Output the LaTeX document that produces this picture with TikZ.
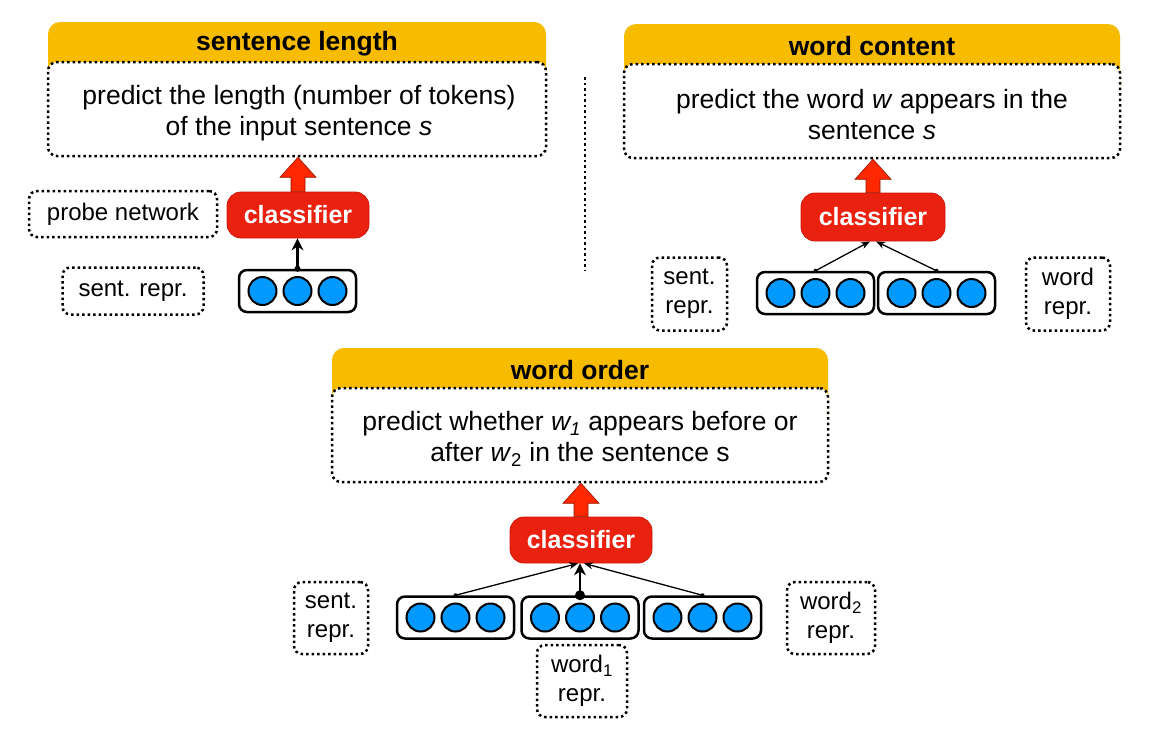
\documentclass[tikz,border=0pt]{standalone}
\usepackage{fontspec}
\setmainfont{Liberation Sans}
\usetikzlibrary{calc,arrows.meta}
\definecolor{hdrY}{RGB}{247,187,0}
\definecolor{clsR}{RGB}{234,33,15}
\definecolor{clsB}{RGB}{205,25,10}
\definecolor{arrR}{RGB}{255,40,0}
\definecolor{arrB}{RGB}{150,20,0}
\definecolor{blueU}{RGB}{0,153,255}
\tikzset{
  dotline/.style={line width=2.5pt, dash pattern=on 2.5pt off 3pt},
  hdrfill/.style={fill=hdrY, rounded corners=12pt},
  taskbox/.style={draw, dotline, fill=white, rounded corners=9pt, minimum width=498pt, minimum height=94pt, inner sep=0pt},
  tasktext/.style={align=center, inner sep=0pt, font=\fontsize{26.5}{31}\selectfont},
  ttl/.style={font=\fontsize{26.5}{31}\selectfont\bfseries},
  cls/.style={fill=clsR, draw=clsB, line width=0.8pt, rounded corners=14pt, minimum width=142pt, minimum height=46pt, text=white, font=\fontsize{25}{30}\selectfont\bfseries, inner sep=0pt},
  vec/.style={draw, line width=2.5pt, rounded corners=8pt, minimum width=117pt, minimum height=42pt, inner sep=0pt},
  unit/.style={circle, fill=blueU, draw=black, line width=2pt, minimum size=28pt, inner sep=0pt},
  lbl/.style={draw, dotline, rounded corners=8pt, align=center, inner sep=0pt, font=\fontsize{24}{29}\selectfont},
  bigarrow/.style={fill=arrR, draw=arrB, line width=0.6pt, line join=miter},
  thinarrow/.style={draw, line width=1.3pt, -{Stealth[length=9pt,width=7pt]}},
  thickarrow/.style={draw, line width=2.5pt, -{Stealth[length=12pt,width=12pt]}},
}
\newcommand{\fatarrow}[2]{%
  \filldraw[bigarrow] (#2.north |- #1.south) -- ++(18,20) -- ++(-11,0) -- ($(#2.north)+(7,0)$) -- ($(#2.north)+(-7,0)$) -- ($(#2.north |- #1.south)+(-7,20)$) -- ++(-11,0) -- cycle;}
\newcommand{\units}[1]{%
  \node[unit] (#1l) at ($(#1.center)+(-35,0)$) {};
  \node[unit] (#1m) at (#1.center) {};
  \node[unit] (#1r) at ($(#1.center)+(35,0)$) {};}
\begin{document}
\begin{tikzpicture}[x=1pt,y=-1pt]
\useasboundingbox (0,0) rectangle (1171,732);
\fill[white] (0,0) rectangle (1171,732);

% ---------- sentence length ----------
\fill[hdrfill] (48,22) rectangle (546,110);
\node[taskbox] (T1) at (297,109) {};
\node[tasktext] (T1t) at (299,113) {predict the length (number of tokens)\\of the input sentence \textit{s}};
\node[ttl] (H1) at (297,44) {sentence length};
\node[cls] (C1) at (298,215) {classifier};
\fatarrow{T1}{C1}
\node[vec] (V1) at (297.5,291) {};
\units{V1}
\node[lbl, minimum width=188pt, minimum height=46pt] (P1) at (123,214) {\raisebox{-2pt}{probe network}};
\node[lbl, minimum width=141pt, minimum height=47pt] (S1) at (133,291) {\raisebox{-1pt}{sent. repr.}};
\fill (V1.north) circle (3pt);
\draw[thickarrow] (V1.north) -- (V1.north |- C1.south);

% divider
\coordinate (D1) at (585,77);
\coordinate (D2) at (585,270);
\draw[dotline] (D1) -- (D2);

% ---------- word content ----------
\fill[hdrfill] (624,24) rectangle (1120,112);
\node[taskbox, minimum width=496pt] (T2) at (872,111) {};
\node[tasktext] (T2t) at (872,115) {predict the word \textit{w} appears in the\\sentence \textit{s}};
\node[ttl] (H2) at (872,46) {word content};
\node[cls, minimum width=144pt, minimum height=48pt] (C2) at (873,217) {classifier};
\fatarrow{T2}{C2}
\node[vec] (V2a) at (815.5,293) {};
\node[vec] (V2b) at (936.5,293) {};
\units{V2a}
\units{V2b}
\node[lbl, minimum width=75pt, minimum height=73pt] (S2) at (689.5,294) {sent.\\repr.};
\node[lbl, minimum width=84pt, minimum height=73pt] (W2) at (1068,294) {word\\repr.};
\fill (V2a.north) circle (2pt);
\fill (V2b.north) circle (2pt);
\draw[thinarrow] (V2a.north) -- ($(C2.south)+(-3,0)$);
\draw[thinarrow] (V2b.north) -- ($(C2.south)+(3,0)$);

% ---------- word order ----------
\fill[hdrfill] (332,348) rectangle (828,436);
\node[taskbox, minimum width=496pt] (T3) at (580,435) {};
\node[tasktext] (T3t) at (580,439) {predict whether \textit{w\textsubscript{1}} appears before or\\after \textit{w}\textsubscript{2} in the sentence s};
\node[ttl] (H3) at (580,370) {word order};
\node[cls] (C3) at (581,540) {classifier};
\fatarrow{T3}{C3}
\node[vec] (V3a) at (455.5,617.5) {};
\node[vec] (V3b) at (580,617.5) {};
\node[vec] (V3c) at (702.5,617.5) {};
\units{V3a}
\units{V3b}
\units{V3c}
\node[lbl, minimum width=74pt, minimum height=72pt] (S3) at (331,618) {sent.\\repr.};
\node[lbl, minimum width=88pt, minimum height=72pt] (W3b) at (831,618) {word\textsubscript{2}\\repr.};
\node[lbl, minimum width=90pt, minimum height=72pt] (W3a) at (582,681) {word\textsubscript{1}\\repr.};
\fill (V3a.north) circle (2pt);
\fill (V3b.north) circle (5pt);
\fill (V3c.north) circle (2pt);
\draw[thinarrow] (V3a.north) -- ($(C3.south)+(-3,0)$);
\draw[thickarrow] (V3b.north) -- (V3b.north |- C3.south);
\draw[thinarrow] (V3c.north) -- ($(C3.south)+(3,0)$);
\end{tikzpicture}
\end{document}
